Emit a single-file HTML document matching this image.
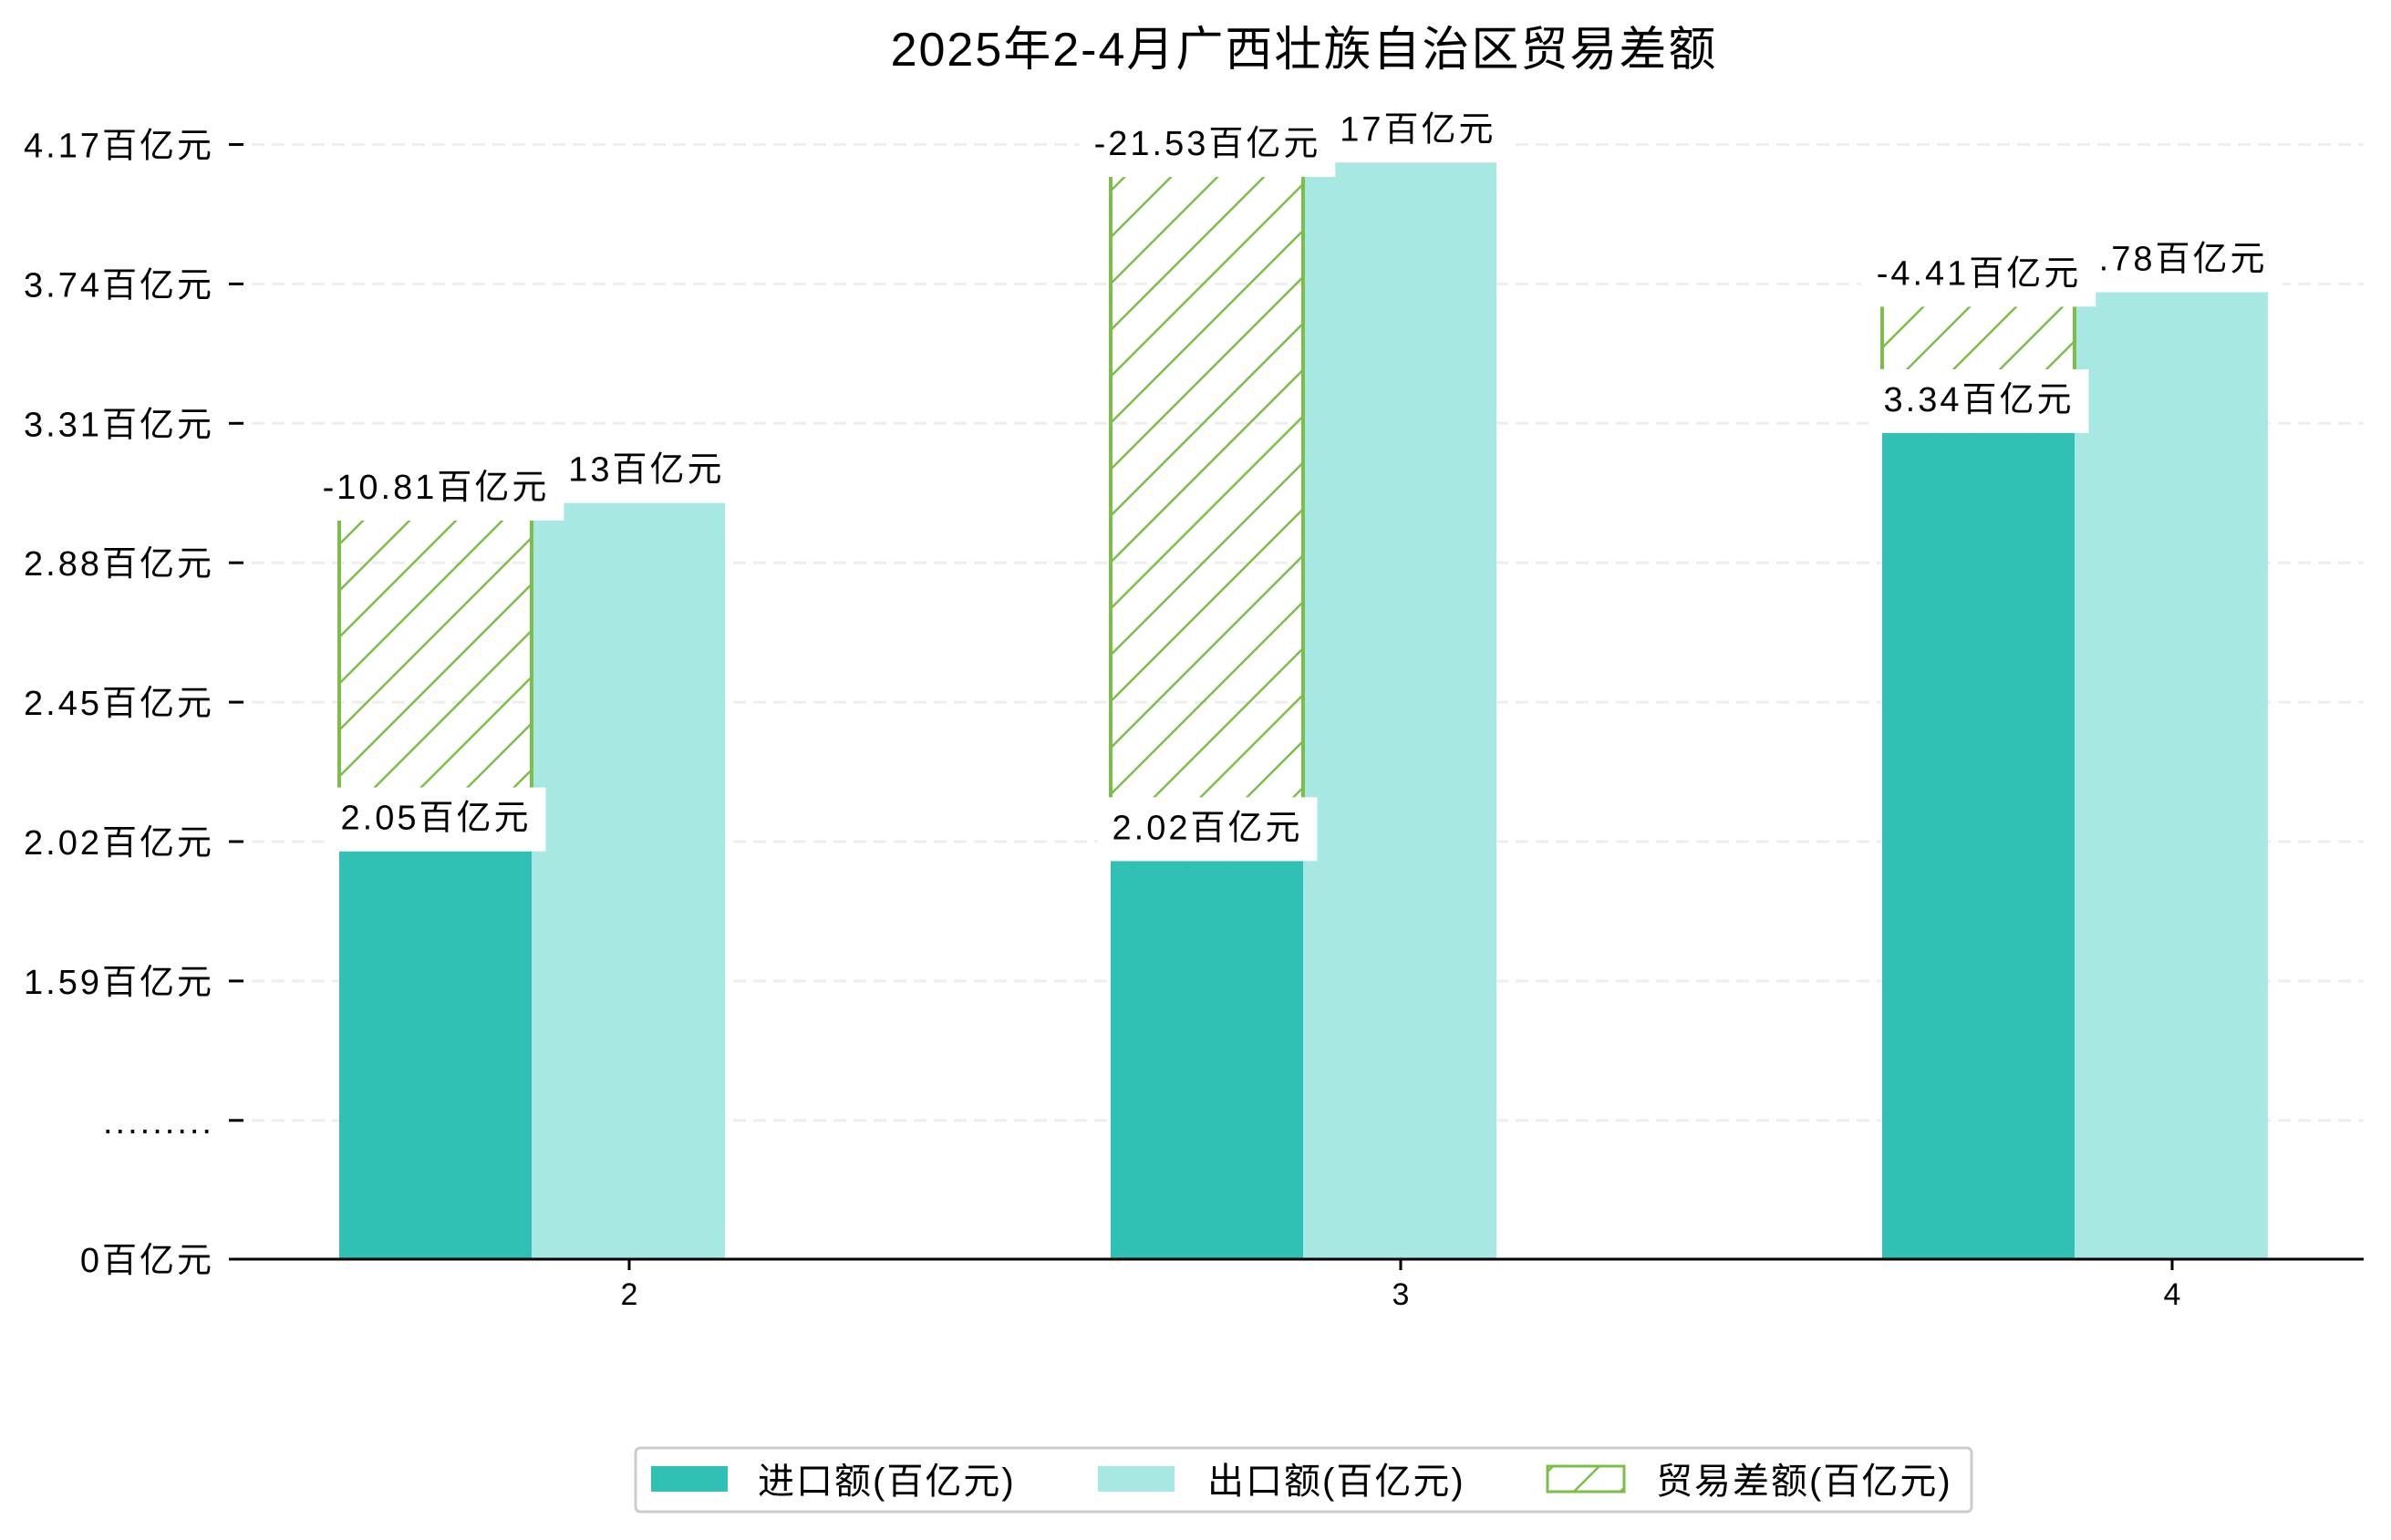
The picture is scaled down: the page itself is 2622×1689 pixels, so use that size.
<!DOCTYPE html>
<html><head><meta charset="utf-8">
<style>
html,body{margin:0;padding:0;background:#fff;}
svg{display:block;font-family:"Liberation Sans","Noto Sans CJK SC",sans-serif;}
</style></head>
<body>
<svg id="chart" width="2622" height="1689" viewBox="0 0 2622 1689" xmlns="http://www.w3.org/2000/svg">
<defs>
<pattern id="hatch" patternUnits="userSpaceOnUse" width="36" height="36" patternTransform="rotate(45)">
<line x1="0" y1="0" x2="0" y2="36" stroke="#7bbf4a" stroke-width="5"/>
</pattern>
</defs>
<text x="1430" y="72" text-anchor="middle" font-size="52" letter-spacing="2" fill="#000">2025年2-4月广西壮族自治区贸易差额</text>
<g id="grid"></g>
<g id="bars"></g>
<g id="labels"></g>
<g id="axes"></g>
<g>
<rect x="697" y="1588" width="1465" height="70" rx="5" fill="#fff" stroke="#ccc" stroke-width="3"/>
<g>
<rect x="714" y="1608" width="84" height="28" fill="#31c0b4"/>
<text x="831" y="1638" font-size="40" letter-spacing="2">进口额(百亿元)</text></g>
<g>
<rect x="1204" y="1608" width="84" height="28" fill="#a8e8e2"/>
<text x="1324" y="1638" font-size="40" letter-spacing="2">出口额(百亿元)</text></g>
<g>
<rect x="1697" y="1608" width="84" height="28" fill="url(#hatch)" stroke="#7bbf4a" stroke-width="3"/>
<text x="1816" y="1638" font-size="40" letter-spacing="2">贸易差额(百亿元)</text></g>
</g>
</svg>
<script>
const months = ['2','3','4'];
const importVals = [1.99, 1.96, 3.28];
const exportVals = [3.07, 4.12, 3.72];
const balanceTop = [3.01, 4.07, 3.67];
const importLabels = ['2.05百亿元','2.02百亿元','3.34百亿元'];
const exportLabels = ['3.13百亿元','4.17百亿元','3.78百亿元'];
const balanceLabels = ['-10.81百亿元','-21.53百亿元','-4.41百亿元'];
const tickVals = [0, 1.16, 1.59, 2.02, 2.45, 2.88, 3.31, 3.74, 4.17];
const tickLabels = ['0百亿元','.........','1.59百亿元','2.02百亿元','2.45百亿元','2.88百亿元','3.31百亿元','3.74百亿元','4.17百亿元'];

const NS='http://www.w3.org/2000/svg';
const BASE=1381, X0=254, X1=2592;
function y(v){
  if(v>=1.16) return 923-(v-2.02)/0.43*152.9;
  return BASE-(v/1.16)*(BASE-y(1.16));
}
function xc(i){return 690+i*846;}
function mk(tag,attrs,parent){const e=document.createElementNS(NS,tag);for(const k in attrs)e.setAttribute(k,attrs[k]);parent.appendChild(e);return e;}
const grid=document.getElementById('grid'),bars=document.getElementById('bars'),labels=document.getElementById('labels'),axes=document.getElementById('axes');

tickVals.forEach((v,i)=>{
  const yy=y(v);
  if(i>0){const g=mk('line',{x1:X0,x2:X1,y1:yy,y2:yy,stroke:'#eeeeee','stroke-width':3,'stroke-dasharray':'14,8'},grid);
  
  }
  const t=mk('line',{x1:251,x2:267,y1:yy,y2:yy,stroke:'#000','stroke-width':3},axes);
  
  
  const l=mk('text',{x:235,y:yy+14,'text-anchor':'end','font-size':38,'letter-spacing':3},axes);
  
  
  l.textContent=tickLabels[i];
});
const ax=mk('line',{x1:X0,x2:X1,y1:BASE,y2:BASE,stroke:'#000','stroke-width':3},axes);



function labelBox(text,cx,topY,name){
  const g=mk('g',{},labels);
  
  
  const r=mk('rect',{fill:'#fff'},g);
  const t=mk('text',{x:cx,y:topY-24,'text-anchor':'middle','font-size':38,'letter-spacing':3},g);
  t.textContent=text;
  const w=t.getComputedTextLength()+32;
  r.setAttribute('x',cx-w/2);r.setAttribute('width',w);
  r.setAttribute('y',topY-70);r.setAttribute('height',70);
}

const W=211;
months.forEach((m,i)=>{
  const c=xc(i), xi=c-318, xe=c-107;
  const bi=mk('rect',{x:xi,y:y(importVals[i]),width:W,height:BASE-y(importVals[i]),fill:'#31c0b4'},bars);
  
  
  const be=mk('rect',{x:xe,y:y(exportVals[i]),width:W+1,height:BASE-y(exportVals[i]),fill:'#a8e8e2'},bars);
  
  
  const bt=y(balanceTop[i]), bb=y(importVals[i]);
  const bh=mk('rect',{x:xi,y:bt,width:W,height:bb-bt,fill:'url(#hatch)'},bars);
  
  
  [xi,xi+W].forEach(xx=>{
    const e=mk('line',{x1:xx,x2:xx,y1:bt,y2:bb,stroke:'#7bbf4a','stroke-width':4},bars);
    
    
  });
  const tk=mk('line',{x1:c,x2:c,y1:BASE,y2:BASE+12,stroke:'#000','stroke-width':3},axes);
  
  
  const tl=mk('text',{x:c,y:BASE+50,'text-anchor':'middle','font-size':34},axes);
  
  
  tl.textContent=m;
});
months.forEach((m,i)=>{const c=xc(i);labelBox(exportLabels[i],c,y(exportVals[i])+2,'export-label-'+m);});
months.forEach((m,i)=>{const c=xc(i);labelBox(importLabels[i],c-212,y(importVals[i]),'import-label-'+m);});
months.forEach((m,i)=>{const c=xc(i);labelBox(balanceLabels[i],c-212,y(balanceTop[i]),'balance-label-'+m);});
</script>
</body></html>
